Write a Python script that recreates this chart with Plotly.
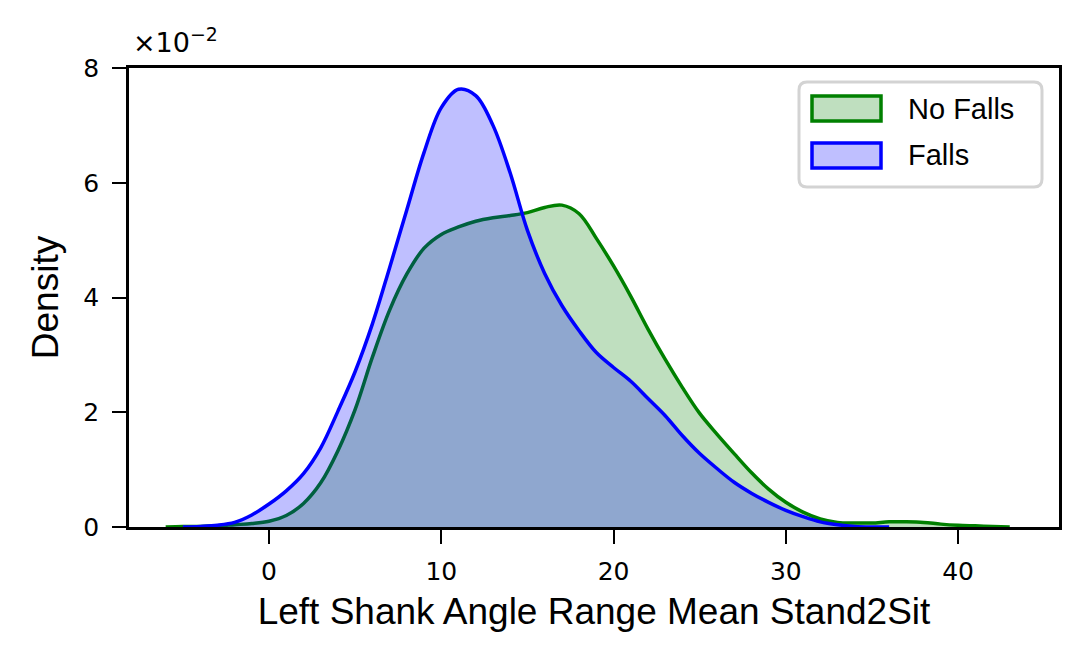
import plotly.graph_objects as go

#density curves, one reading per degree (x in degrees, y = density)
x_nofalls = list(range(-6, 44))
y_nofalls = [0.0, 0.0001, 0.0001, 0.0002, 0.0004, 0.0006, 0.001, 0.002, 0.0041, 0.0077, 0.0133, 0.0205,
             0.0296, 0.0378, 0.0441, 0.0486, 0.051, 0.0523, 0.0533, 0.0539, 0.0543, 0.0548, 0.0557, 0.0561,
             0.0546, 0.0503, 0.0455, 0.0402, 0.0345, 0.0292, 0.0243, 0.0198, 0.0162, 0.0128, 0.0095, 0.0066,
             0.0043, 0.0026, 0.0014, 0.0008, 0.0007, 0.0007, 0.0009, 0.0009, 0.0008, 0.0005, 0.0003, 0.0002,
             0.0001, 0.0]

x_falls = list(range(-5, 37))
y_falls = [0.0, 0.0001, 0.0003, 0.0008, 0.0021, 0.004, 0.0063, 0.0093, 0.0138, 0.0202, 0.0271, 0.0354,
           0.0452, 0.0553, 0.0653, 0.0731, 0.0763, 0.0752, 0.07, 0.0617, 0.0517, 0.0442, 0.0386, 0.0342, 0.0304,
           0.0278, 0.0254, 0.0224, 0.0194, 0.0159, 0.0128, 0.0102, 0.0078, 0.0059, 0.0043, 0.0029, 0.0018,
           0.0009, 0.0004, 0.0001, 0.0, 0.0]

x_ticks = [0, 10, 20, 30, 40]
y_ticks = [0, 0.02, 0.04, 0.06, 0.08]
y_ticklabels = ["0", "2", "4", "6", "8"]

series_names = ["No Falls", "Falls"]
line_colors = ["#008000", "#0000ff"]
fill_colors = ["rgba(0,128,0,0.25)", "rgba(0,0,255,0.25)"]

#plot area in page pixels (the page body adds 8px, margins below take it off)
L, R, T, B = 129, 1059, 68, 527
def px2x(p):
    return (p - L) / (R - L)
def px2y(p):
    return (B - p) / (B - T)

fig = go.Figure()
#green goes first so the blue fill sits on top of it (like the seaborn plot)
for xs, ys, name, lc, fc in zip([x_nofalls, x_falls], [y_nofalls, y_falls], series_names, line_colors, fill_colors):
    fig.add_trace(go.Scatter(x=xs, y=ys, name=name, mode="lines", fill="tozeroy", showlegend=False,
                             line=dict(color=lc, width=3.5, shape="spline", smoothing=1.0),
                             fillcolor=fc))

tickfont = dict(family="DejaVu Sans", size=25, color="black")
titlefont = dict(family="Liberation Sans", size=37, color="black")

fig.update_layout(
    width=1088, height=666,
    margin=dict(l=L - 8, r=1088 - R + 8, t=T - 8, b=666 - B + 8),
    paper_bgcolor="white", plot_bgcolor="white",
    xaxis=dict(range=[-8.13, 45.86], tickvals=x_ticks, ticks="outside", ticklen=14, tickwidth=2,
               tickcolor="black", tickfont=tickfont, ticklabelstandoff=6,
               showline=True, linecolor="black", linewidth=2.5, mirror=True, showgrid=False, zeroline=False,
               title=dict(text="Left Shank Angle Range Mean Stand2Sit", font=titlefont, standoff=14)),
    yaxis=dict(range=[0, 0.08], tickvals=y_ticks, ticktext=y_ticklabels, ticks="outside", ticklen=14,
               tickwidth=2, tickcolor="black", tickfont=tickfont, ticklabelstandoff=8,
               showline=True, linecolor="black", linewidth=2.5, mirror=True, showgrid=False, zeroline=False,
               title=dict(text="Density", font=titlefont, standoff=14)),
)

#scale factor label above the y axis, like matplotlib's offset text
fig.add_annotation(text="\u00d710<sup>\u22122</sup>", xref="paper", yref="paper", x=0, y=1,
                   xanchor="left", yanchor="bottom", xshift=2, yshift=8, showarrow=False,
                   font=dict(family="DejaVu Sans", size=27, color="black"))

#legend drawn by hand so the patches look like matplotlib's (filled boxes with edges)
x0, x1, y0, y1 = px2x(799), px2x(1042), px2y(187), px2y(82)
rx, ry = 8 / (R - L), 8 / (B - T)
box = (f"M{x0+rx},{y1} L{x1-rx},{y1} Q{x1},{y1} {x1},{y1-ry} L{x1},{y0+ry} Q{x1},{y0} {x1-rx},{y0} "
       f"L{x0+rx},{y0} Q{x0},{y0} {x0},{y0+ry} L{x0},{y1-ry} Q{x0},{y1} {x0+rx},{y1} Z")
fig.add_shape(type="path", path=box, xref="paper", yref="paper",
              line=dict(color="#d3d3d3", width=3), fillcolor="rgba(255,255,255,0.8)")
patch_top = [96, 143]
for i, name in enumerate(series_names):
    fig.add_shape(type="rect", xref="paper", yref="paper",
                  x0=px2x(812), x1=px2x(881), y0=px2y(patch_top[i] + 25), y1=px2y(patch_top[i]),
                  line=dict(color=line_colors[i], width=3.5), fillcolor=fill_colors[i])
    fig.add_annotation(text=name, xref="paper", yref="paper", x=px2x(906), y=px2y(patch_top[i] + 12.5),
                       xanchor="left", yanchor="middle", showarrow=False,
                       font=dict(family="Liberation Sans", size=29, color="black"))

fig.write_html("out.html")
